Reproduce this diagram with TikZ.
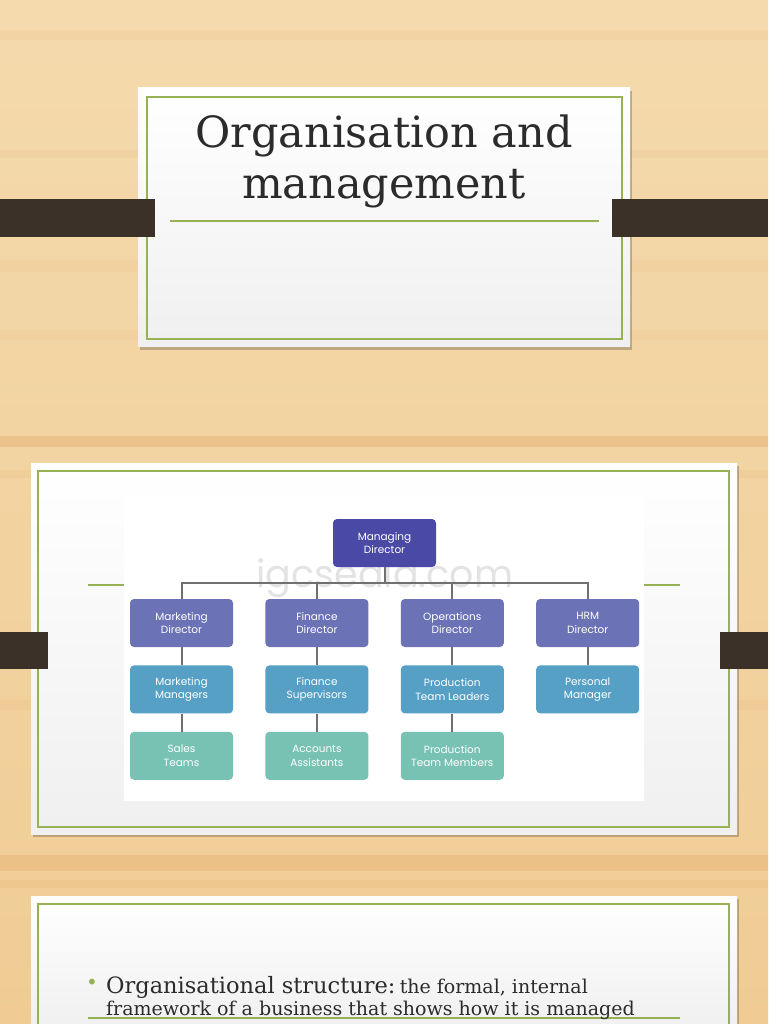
\documentclass[tikz,border=0pt]{standalone}
\usepackage{fontspec}
\setmainfont{DejaVu Serif}
\newfontfamily\chartfont{Poppins}
\usepackage{xcolor,tikz}
\usetikzlibrary{positioning,calc}

\definecolor{wood}{HTML}{F0CC94}
\definecolor{woodlight}{HTML}{F4DAAD}
\definecolor{wooddark}{HTML}{E4AE72}
\definecolor{strap}{HTML}{3B3129}
\definecolor{frame}{HTML}{97B255}
\definecolor{ink}{HTML}{2B2B2B}
\definecolor{mdcol}{HTML}{4A4AA6}
\definecolor{dircol}{HTML}{6B72B6}
\definecolor{mancol}{HTML}{56A0C5}
\definecolor{teamcol}{HTML}{78C2B4}
\definecolor{linkcol}{HTML}{707070}

\begin{document}
\begin{tikzpicture}[x=1pt,y=-1pt,node distance=18pt and 32pt,
  card/.style={fill=white,top color=white,bottom color=gray!12},
  inner/.style={draw=frame,line width=1.2pt},
  bar/.style={fill=strap},
  orgbox/.style={rounded corners=4pt,minimum width=103pt,minimum height=48pt,inner sep=2pt,align=center,text=white,font=\chartfont\fontsize{10.5}{13.5}\selectfont},
  top/.style={orgbox,fill=mdcol},
  dir/.style={orgbox,fill=dircol},
  man/.style={orgbox,fill=mancol},
  team/.style={orgbox,fill=teamcol},
  link/.style={draw=linkcol,line width=2pt}]
\useasboundingbox (0,0) rectangle (768,1024);
% wood
\fill[top color=woodlight,bottom color=wood] (0,0) rectangle (768,1024);
\foreach \y/\h/\o in {30/10/.12,150/8/.1,260/12/.12,330/10/.1,436/11/.45,470/8/.15,700/10/.12,855/16/.4,880/8/.2}
  \fill[wooddark,opacity=\o] (0,\y) rectangle (768,\y+\h);

% slide 1
\fill[black,opacity=.22] (140,91) rectangle (632,350);
\fill[card] (138,88) rectangle (630,346);
\draw[inner] (147,97) rectangle (622,339);
\draw[frame,line width=1.2pt] (170,221) -- (599,221);
\node[text=ink,align=center,font=\fontsize{43}{51}\selectfont] (title) at (384,161) {Organisation and\\management};
\fill[bar] (0,199) rectangle (155,237);
\fill[bar] (612,199) rectangle (768,237);

% slide 2
\fill[black,opacity=.22] (33,466) rectangle (739,837);
\fill[card] (31,463) rectangle (737,834);
\draw[inner] (38,471) rectangle (729,827);
\draw[frame,line width=1.2pt] (88,585) -- (680,585);
\fill[white] (124,496) rectangle (644,801);
\fill[bar] (0,632) rectangle (48,669);
\fill[bar] (720,632) rectangle (768,669);

\node[text=gray!22,font=\chartfont\fontsize{38}{38}\selectfont] (mark) at (385,578) {igcseaid.com};

\node[top] (md) at (384.5,543) {Managing\\Director};
\node[dir] (mkdir) at (181.5,623) {Marketing\\Director};
\node[dir,right=of mkdir] (findir) {Finance\\Director};
\node[dir,right=of findir] (opsdir) {Operations\\Director};
\node[dir,right=of opsdir] (hrmdir) {HRM\\Director};
\node[man,below=of mkdir] (mkman) {Marketing\\Managers};
\node[man,below=of findir] (finsup) {Finance\\Supervisors};
\node[man,below=of opsdir] (prodlead) {Production\\Team Leaders};
\node[man,below=of hrmdir] (persman) {Personal\\Manager};
\node[team,below=of mkman] (sales) {Sales\\Teams};
\node[team,below=of finsup] (accass) {Accounts\\Assistants};
\node[team,below=of prodlead] (prodmem) {Production\\Team Members};

\foreach \d in {mkdir,findir,opsdir,hrmdir}
  \draw[link] (md.south) -- ++(0,16) -| (\d.north);
\draw[link] (mkman) -- (mkdir);
\draw[link] (mkman) -- (sales);
\draw[link] (finsup) -- (findir);
\draw[link] (finsup) -- (accass);
\draw[link] (prodlead) -- (opsdir);
\draw[link] (prodlead) -- (prodmem);
\draw[link] (persman) -- (hrmdir);

% slide 3
\fill[black,opacity=.22] (33,899) rectangle (739,1030);
\fill[card] (31,896) rectangle (737,1030);
\draw[inner] (38,904) rectangle (729,1030);
\draw[frame,line width=1.2pt] (88,1018) -- (680,1018);
\node[text=frame,font=\fontsize{20}{20}\selectfont] (dot) at (92,984) {•};
\node[text=ink,anchor=base west,inner sep=0pt] (text) at (106,993)
  {{\fontsize{22.5}{24}\selectfont Organisational structure:} {\fontsize{19}{24}\selectfont the formal, internal}};
\node[text=ink,anchor=base west,inner sep=0pt,font=\fontsize{19}{24}\selectfont] (text2) at (106,1015)
  {framework of a business that shows how it is managed};
\end{tikzpicture}
\end{document}
